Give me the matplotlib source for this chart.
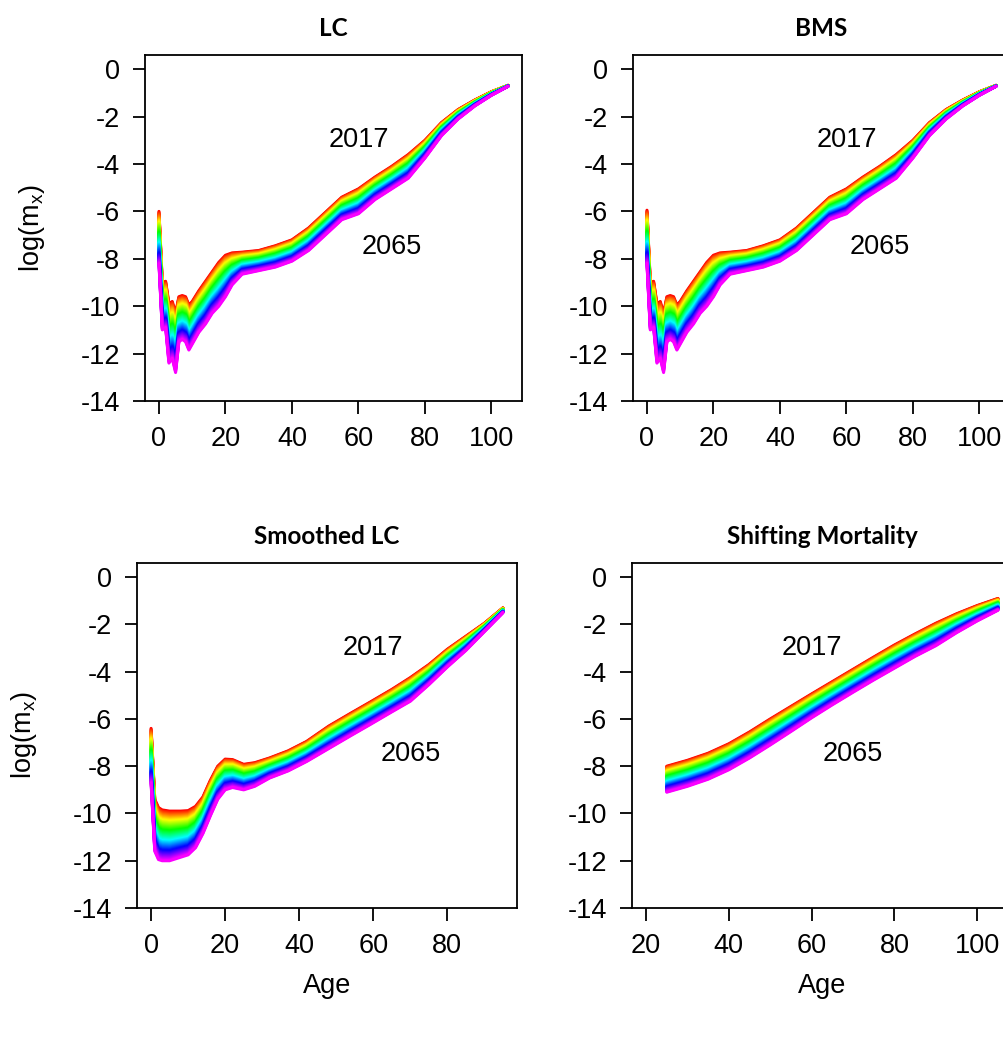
import numpy as np
import matplotlib
matplotlib.use("Agg")
import matplotlib.pyplot as plt
from matplotlib.colors import hsv_to_rgb

plt.rcParams["font.family"] = ["Liberation Sans", "DejaVu Sans"]
plt.rcParams["mathtext.fontset"] = "custom"
plt.rcParams["mathtext.rm"] = "Liberation Sans"
plt.rcParams["mathtext.it"] = "Liberation Sans"

first_year = 2017
last_year = 2065
years = list(range(first_year, last_year + 1))

# LC / BMS forecasts: log death rates in first and last forecast year
lc_ages = [0, 1, 2, 3, 4, 5, 6, 7, 8, 9, 10, 12, 14, 16, 18, 20, 22, 25, 30,
           35, 40, 45, 50, 55, 60, 65, 70, 75, 80, 85, 90, 95, 100, 105]
lc_2017 = [-6.0, -9.0, -8.95, -9.9, -9.8, -10.3, -9.6, -9.55, -9.6, -9.95, -9.8,
           -9.35, -8.95, -8.55, -8.15, -7.85, -7.75, -7.72, -7.65, -7.45, -7.2,
           -6.7, -6.05, -5.4, -5.05, -4.55, -4.1, -3.6, -3.0, -2.25, -1.7, -1.3,
           -0.95, -0.68]
lc_2065 = [-8.2, -11.0, -10.9, -12.4, -12.2, -12.8, -11.5, -11.4, -11.5, -11.85,
           -11.6, -11.1, -10.75, -10.3, -10.0, -9.6, -9.1, -8.65, -8.5, -8.35,
           -8.1, -7.65, -7.0, -6.35, -6.1, -5.5, -5.05, -4.6, -3.75, -2.8, -2.1,
           -1.55, -1.1, -0.72]

bms_ages = lc_ages
bms_2017 = [-5.95, -9.0, -8.95, -9.9, -9.8, -10.3, -9.6, -9.55, -9.6, -9.95, -9.8,
            -9.35, -8.95, -8.55, -8.15, -7.85, -7.75, -7.72, -7.65, -7.45, -7.2,
            -6.7, -6.05, -5.4, -5.05, -4.55, -4.1, -3.6, -3.0, -2.25, -1.7, -1.3,
            -0.95, -0.68]
bms_2065 = [-8.2, -11.0, -10.9, -12.4, -12.2, -12.8, -11.5, -11.4, -11.5, -11.85,
            -11.6, -11.1, -10.75, -10.3, -10.0, -9.6, -9.1, -8.65, -8.5, -8.35,
            -8.1, -7.65, -7.0, -6.35, -6.1, -5.5, -5.05, -4.6, -3.75, -2.8, -2.1,
            -1.55, -1.1, -0.72]

sm_ages = [0, 1, 2, 3, 5, 8, 10, 12, 14, 16, 18, 20, 22, 25, 28, 32, 37, 42, 48,
           54, 59, 65, 70, 75, 80, 85, 90, 95]
sm_2017 = [-6.4, -9.4, -9.75, -9.85, -9.9, -9.9, -9.88, -9.7, -9.3, -8.6, -8.0,
           -7.7, -7.72, -7.92, -7.85, -7.65, -7.35, -6.95, -6.3, -5.75, -5.3,
           -4.75, -4.25, -3.7, -3.05, -2.5, -1.95, -1.3]
sm_2065 = [-8.7, -11.6, -11.95, -12.0, -12.0, -11.85, -11.75, -11.45, -10.85,
           -10.1, -9.4, -9.0, -8.9, -9.0, -8.85, -8.5, -8.2, -7.8, -7.25, -6.7,
           -6.25, -5.7, -5.25, -4.55, -3.8, -3.1, -2.3, -1.5]

sh_ages = [25, 30, 35, 40, 45, 50, 55, 60, 65, 70, 75, 80, 85, 90, 95, 100, 105]
sh_2017 = [-8.0, -7.75, -7.45, -7.05, -6.55, -6.0, -5.47, -4.94, -4.42, -3.9,
           -3.38, -2.87, -2.4, -1.95, -1.55, -1.2, -0.9]
sh_2065 = [-9.1, -8.85, -8.55, -8.15, -7.65, -7.1, -6.53, -5.95, -5.4, -4.87,
           -4.35, -3.85, -3.35, -2.9, -2.35, -1.85, -1.4]

panels = [
    ("LC", lc_ages, lc_2017, lc_2065, (-4.2, 109.2), [0, 20, 40, 60, 80, 100]),
    ("BMS", bms_ages, bms_2017, bms_2065, (-4.2, 109.2), [0, 20, 40, 60, 80, 100]),
    ("Smoothed LC", sm_ages, sm_2017, sm_2065, (-3.8, 98.8), [0, 20, 40, 60, 80]),
    ("Shifting Mortality", sh_ages, sh_2017, sh_2065, (16.6, 108.4), [20, 40, 60, 80, 100]),
]

# axes boxes in pixels: left, top, right, bottom
boxes = [(145, 55, 522, 401), (633, 55, 1010, 401),
         (137, 563, 517, 908), (632, 563, 1012, 908)]

W, H = 1004, 1037
fig = plt.figure(figsize=(W / 100, H / 100), dpi=100)

n = len(years)
colors = [hsv_to_rgb((0.83 * i / (n - 1), 1, 1)) for i in range(n)]

for k, (title, ages, top, bot, xlim, xt) in enumerate(panels):
    l, t, r, b = boxes[k]
    ax = fig.add_axes([l / W, 1 - b / H, (r - l) / W, (b - t) / H])
    top = np.array(top)
    bot = np.array(bot)
    for i, yr in enumerate(years):
        kt = (yr - first_year) / (last_year - first_year)
        ax.plot(ages, top + kt * (bot - top), color=colors[i], lw=2.2,
                solid_capstyle="round", solid_joinstyle="round")
    ax.set_xlim(*xlim)
    ax.set_ylim(-14, 0.6)
    ax.set_xticks(xt)
    ax.set_yticks(range(-14, 1, 2))
    ax.set_yticklabels([str(v) for v in range(-14, 1, 2)])
    ax.tick_params(labelsize=19.5, length=9, width=1.3, pad=9)
    for s in ax.spines.values():
        s.set_linewidth(1.3)
    ax.set_title(title, family=["Lato", "DejaVu Sans"], fontweight="bold",
                 fontsize=17.5, pad=14)
    ax.text(60, -3, "2017", fontsize=19.5, ha="center", va="center")
    ax.text(70, -7.5, "2065", fontsize=19.5, ha="center", va="center")
    if k % 2 == 0:
        ax.set_ylabel(r"$\mathrm{log(m_x)}$", fontsize=19.5, labelpad=24)
    if k >= 2:
        ax.set_xlabel("Age", fontsize=19.5, labelpad=10)

fig.savefig("out.png", dpi=100)
